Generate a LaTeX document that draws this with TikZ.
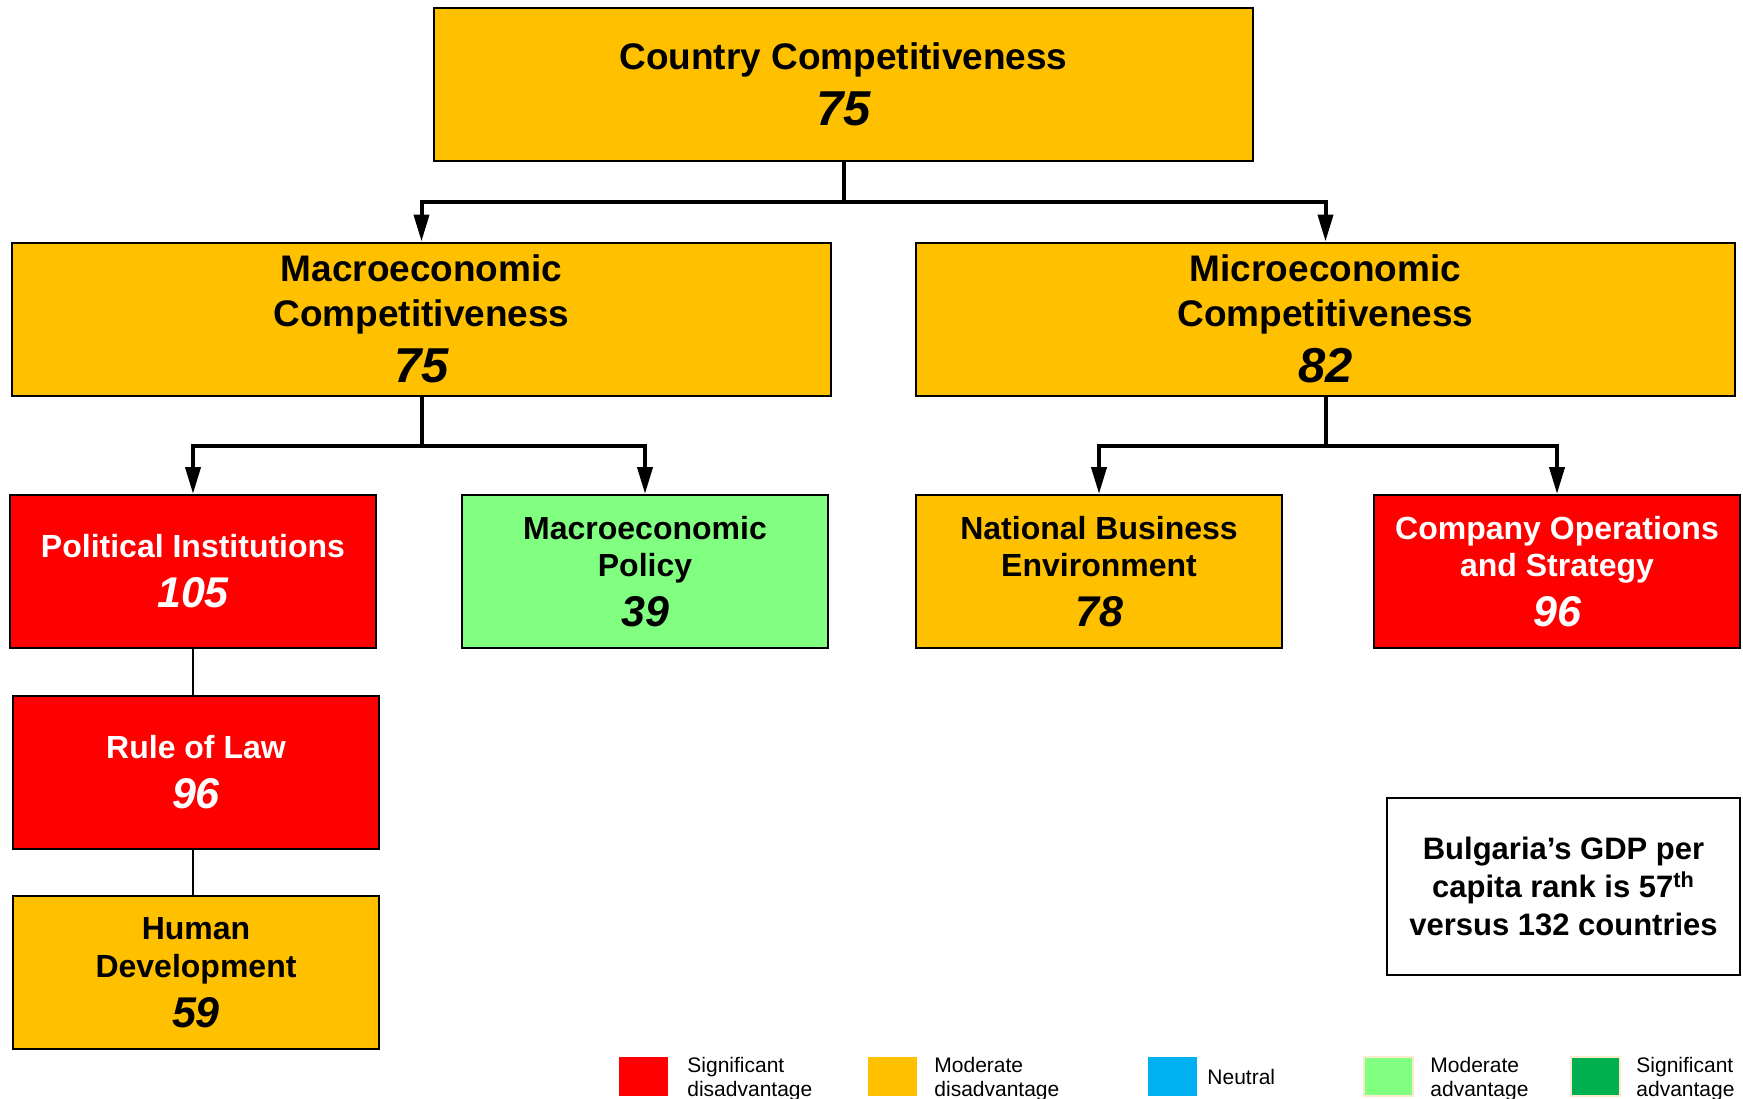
\documentclass[tikz,border=0pt]{standalone}
\usepackage{fontspec}
\setmainfont{Liberation Sans}
\usetikzlibrary{arrows.meta}
\definecolor{cred}{HTML}{FF0000}
\definecolor{corange}{HTML}{FFC000}
\definecolor{cblue}{HTML}{00B0F0}
\definecolor{clgreen}{HTML}{80FF80}
\definecolor{cgreen}{HTML}{00B050}
\newcommand{\bignum}[1]{\fontsize{24.5}{28}\selectfont\bfseries\itshape #1}
\newcommand{\smallnum}[1]{\fontsize{21.5}{25}\selectfont\bfseries\itshape #1}
\tikzset{
  bigbox/.style={draw=black, line width=1pt, minimum width=409.5pt, minimum height=76.5pt,
    inner sep=0pt, align=center, font=\fontsize{18.5}{22.25}\selectfont\bfseries},
  smallbox/.style={draw=black, line width=1pt, minimum width=183pt, minimum height=76.5pt,
    inner sep=0pt, align=center, font=\fontsize{16}{18.9}\selectfont\bfseries},
  arr/.style={line width=2pt, -{Triangle[width=7.5pt,length=13.5pt]}},
  thin/.style={line width=0.8pt},
  legsq/.style={minimum width=24.5pt, minimum height=19.5pt, inner sep=0pt},
  legtxt/.style={inner sep=0pt, align=left, font=\fontsize{10.5}{12}\selectfont},
}
\begin{document}
\begin{tikzpicture}[x=0.5pt,y=-0.5pt]
\useasboundingbox (0,0) rectangle (1743,1098);
\fill[white] (0,0) rectangle (1743,1098);
% level 1
\node[bigbox, fill=corange] (top) at (843.5,84.5) {Country Competitiveness\\[5.5pt]\bignum{75}};
% level 2
\node[bigbox, fill=corange] (macro) at (421.5,319) {Macroeconomic\\Competitiveness\\[6pt]\bignum{75}};
\node[bigbox, fill=corange] (micro) at (1325.5,319) {Microeconomic\\Competitiveness\\[6pt]\bignum{82}};
% level 3
\node[smallbox, fill=cred, text=white] (pol) at (193,571.5) {Political Institutions\\[6pt]\smallnum{105}};
\node[smallbox, fill=clgreen] (mpol) at (645,571.5) {Macroeconomic\\Policy\\[6pt]\smallnum{39}};
\node[smallbox, fill=corange] (nbe) at (1099,571.5) {National Business\\Environment\\[6pt]\smallnum{78}};
\node[smallbox, fill=cred, text=white] (cos) at (1557,571.5) {Company Operations\\and Strategy\\[6pt]\smallnum{96}};
% level 4
\node[smallbox, fill=cred, text=white] (rol) at (196,772.5) {Rule of Law\\[6pt]\smallnum{96}};
\node[smallbox, fill=corange] (hd) at (196,972.5) {Human\\Development\\[6pt]\smallnum{59}};
% GDP box
\node[draw=black, line width=1pt, minimum width=176.5pt, minimum height=88.5pt, inner sep=0pt,
  align=center, font=\fontsize{15.5}{19}\selectfont\bfseries] (gdp) at (1563.5,886.5)
  {Bulgaria’s GDP per\\capita rank is 57\textsuperscript{th}\\versus 132 countries};
% connectors
\draw[arr] (top.south) -- ++(0,40) -| (macro.north);
\draw[arr] (top.south) -- ++(0,40) -| (micro.north);
\draw[arr] (macro.south) -- ++(0,49) -| (pol.north);
\draw[arr] (macro.south) -- ++(0,49) -| (mpol.north);
\draw[arr] (micro.south) -- ++(0,49) -| (nbe.north);
\draw[arr] (micro.south) -- ++(0,49) -| (cos.north);
\draw[thin] (pol.south) -- (pol.south |- rol.north);
\draw[thin] (pol.south |- rol.south) -- (pol.south |- hd.north);
% legend
\node[legsq, fill=cred] (l1) at (643.5,1076.5) {};
\node[legsq, fill=corange] (l2) at (892.5,1076.5) {};
\node[legsq, fill=cblue] (l3) at (1172.5,1076.5) {};
\node[legsq, fill=clgreen, draw={rgb,255:red,250;green,235;blue,205}, line width=0.6pt] (l4) at (1388.5,1076.5) {};
\node[legsq, fill=cgreen, draw={rgb,255:red,250;green,235;blue,205}, line width=0.6pt] (l5) at (1595.5,1076.5) {};
\node[legtxt, anchor=north west] (t1) at (687,1057) {Significant\\disadvantage};
\node[legtxt, anchor=north west] (t2) at (934,1057) {Moderate\\disadvantage};
\node[legtxt, anchor=west] (t3) at (1207,1077) {Neutral};
\node[legtxt, anchor=north west] (t4) at (1430,1057) {Moderate\\advantage};
\node[legtxt, anchor=north west] (t5) at (1636,1057) {Significant\\advantage};
\end{tikzpicture}
\end{document}
